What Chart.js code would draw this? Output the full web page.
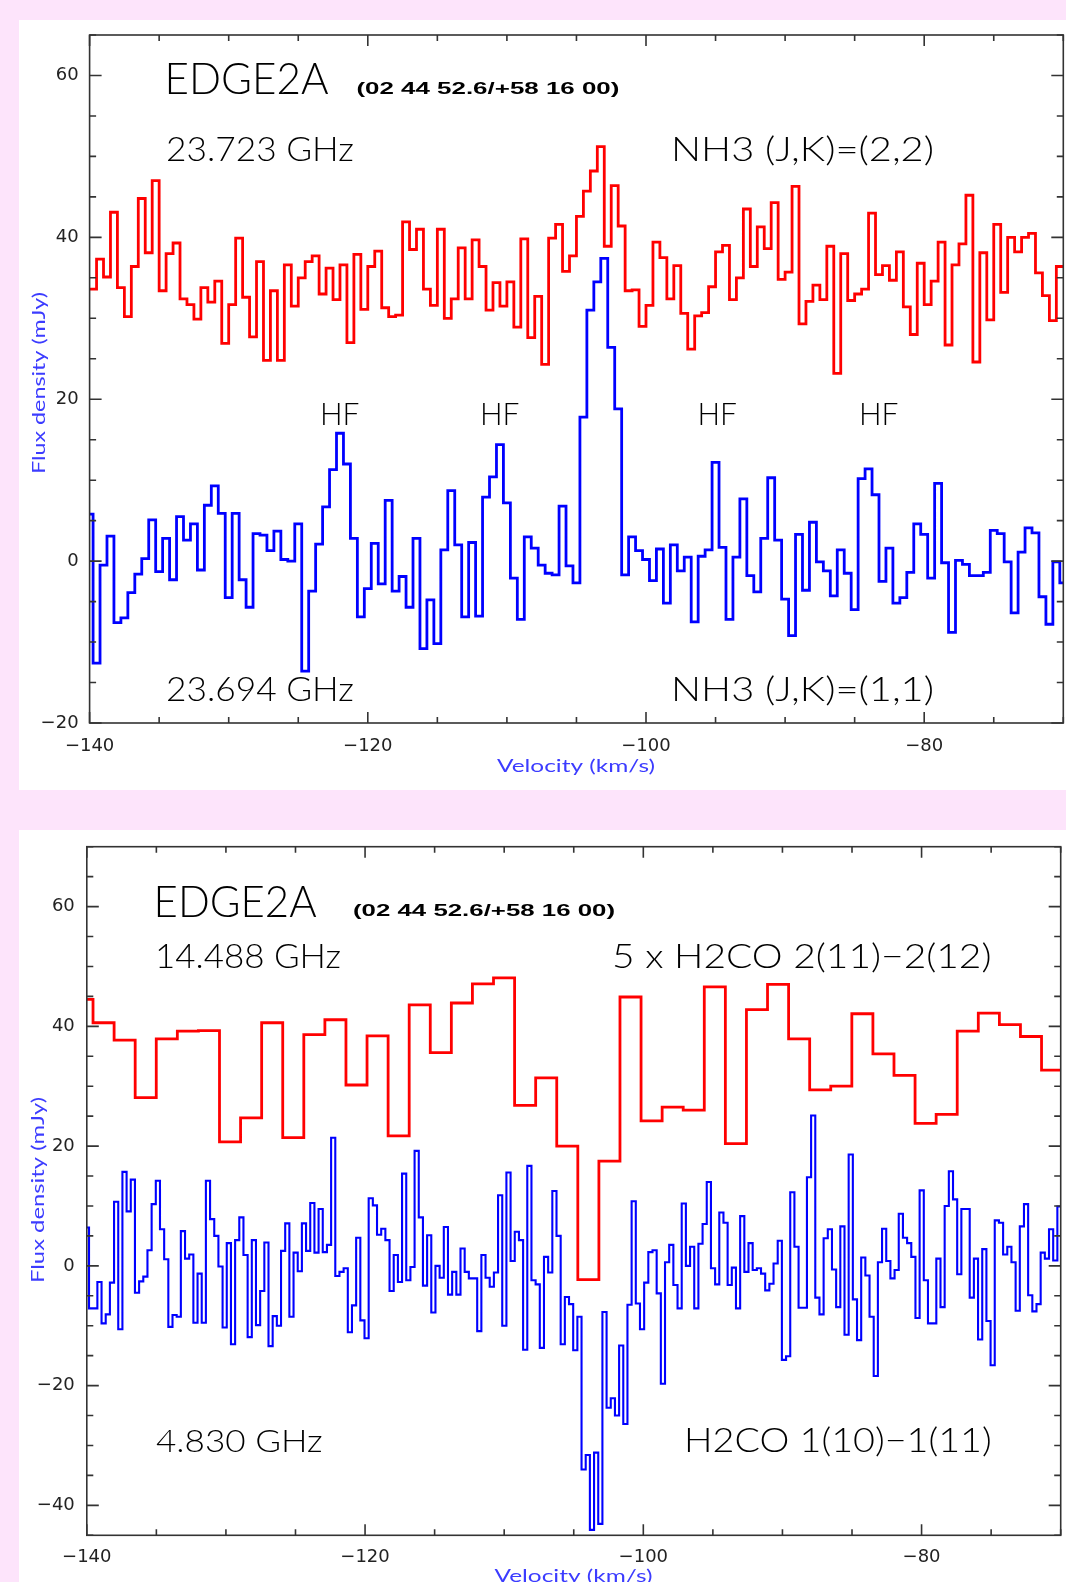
<!DOCTYPE html>
<html>
<head>
<meta charset="utf-8">
<script src="https://cdn.jsdelivr.net/npm/chart.js@4.4.1/dist/chart.umd.min.js"></script>
<style>
    html, body { margin: 0; padding: 0; background: #fde4fb; }
    body { width: 1066px; height: 1582px; position: relative; overflow: hidden; }
    .panel { position: absolute; left: 19px; width: 1047px; background: #fff; }
    #p1 { top: 20px; height: 770px; }
    #p2 { top: 830px; height: 752px; }
    canvas { display: block; }
</style>
</head>
<body>
<div class="panel" id="p1"><canvas id="nh3Chart" width="1047" height="770"></canvas></div>
<div class="panel" id="p2"><canvas id="h2coChart" width="1047" height="752"></canvas></div>
<script>
// velocity axis (km/s) shared by both panels
const velocityRange = [-140, -70];
const nh3YRange = [-20, 65];
const h2coYRange = [-45, 70];

// NH3 (2,2), 0.5 km/s channels, first channel centre -139.75
const nh322Start = -139.75;
const nh322Width = 0.5;
const nh322Flux = [
    33.6, 37.3, 35.1, 43.1, 33.8, 30.2, 36.4, 44.8, 38.1, 47.0,
    33.4, 38.0, 39.3, 32.4, 31.7, 29.9, 33.8, 32.0, 34.6, 26.9,
    31.7, 39.9, 32.6, 27.7, 37.0, 24.8, 33.4, 24.8, 36.6, 31.5,
    35.0, 37.0, 37.7, 33.0, 36.2, 32.3, 36.6, 27.0, 37.9, 31.1,
    36.4, 38.3, 31.3, 30.2, 30.4, 41.9, 38.5, 41.0, 33.6, 31.6,
    41.0, 30.0, 32.4, 38.7, 32.4, 39.7, 36.4, 31.0, 34.4, 31.5,
    34.5, 28.9, 39.8, 27.6, 32.7, 24.3, 39.9, 41.6, 35.8, 37.7,
    42.6, 45.7, 48.2, 51.2, 38.9, 46.4, 41.4, 33.4, 33.5, 29.0,
    31.6, 39.4, 37.5, 32.4, 36.5, 30.6, 26.2, 30.3, 30.7, 33.9,
    38.2, 39.0, 32.3, 35.0, 43.5, 36.4, 41.3, 38.6, 44.3, 34.8,
    35.7, 46.3, 29.3, 32.1, 34.1, 32.3, 38.9, 23.2, 38.0, 32.2,
    33.0, 33.6, 43.0, 35.4, 36.5, 34.7, 38.2, 31.4, 28.0, 36.8,
    31.7, 34.6, 39.4, 26.7, 36.6, 39.2, 45.2, 24.6, 38.1, 29.8,
    41.6, 33.2, 40.0, 38.2, 40.0, 40.5, 35.6, 32.8, 29.7, 36.4
];

// NH3 (1,1), 0.5 km/s channels, first channel centre -140
const nh311Start = -140;
const nh311Width = 0.5;
const nh311Flux = [
    5.8, -12.6, -0.5, 3.1, -7.6, -7.0, -3.9, -1.6, 0.3, 5.1,
    -1.3, 2.8, -2.3, 5.5, 2.6, 4.6, -1.1, 6.9, 9.3, 5.9,
    -4.5, 5.9, -2.3, -5.7, 3.4, 3.2, 1.3, 3.7, 0.2, 0.0,
    4.6, -13.6, -3.7, 2.1, 6.7, 11.3, 15.8, 12.0, 2.8, -6.9,
    -3.4, 2.2, -2.8, 7.5, -3.7, -1.9, -5.7, 2.8, -10.8, -4.8,
    -10.2, 1.4, 8.7, 2.0, -6.9, 2.3, -6.8, 7.9, 10.4, 14.4,
    7.2, -2.1, -7.2, 3.0, 1.6, -0.5, -1.5, -1.7, 6.8, -0.6,
    -2.7, 17.8, 31.0, 34.5, 37.4, 26.4, 18.8, -1.7, 3.0, 1.3,
    0.2, -2.4, 1.5, -5.2, 2.0, -1.2, 0.5, -7.5, 0.6, 1.4,
    12.2, 1.7, -7.2, 0.5, 7.7, -1.8, -3.8, 2.8, 10.3, 2.6,
    -4.7, -9.2, 3.3, -3.6, 4.8, -0.1, -1.2, -4.3, 1.4, -1.5,
    -6.0, 10.2, 11.4, 8.2, -2.5, 1.6, -5.2, -4.5, -1.4, 4.6,
    3.3, -2.1, 9.6, -0.2, -8.8, 0.1, -0.4, -1.8, -1.8, -1.4,
    3.8, 3.4, -0.1, -6.4, 1.1, 4.1, 3.5, -4.4, -7.8, -0.1,
    -2.7
];

// 5 x H2CO 2(11)-2(12), ~1.515 km/s channels
const h2co2cmStart = -140.31;
const h2co2cmWidth = 1.515;
const h2co2cmFlux = [
    44.5, 40.6, 37.7, 28.1, 37.9, 39.2, 39.3, 20.7, 24.7, 40.6,
    21.4, 38.6, 41.1, 30.2, 38.4, 21.7, 43.6, 35.6, 43.9, 47.1,
    48.1, 26.8, 31.4, 20.0, -2.3, 17.5, 44.9, 24.2, 26.5, 26.0,
    46.6, 20.4, 42.8, 47.0, 37.9, 29.4, 30.0, 42.1, 35.4, 31.8,
    23.8, 25.3, 39.2, 42.2, 40.3, 38.3, 32.7
];

// H2CO 1(10)-1(11), 0.3 km/s channels
const h2co6cmStart = -139.99;
const h2co6cmWidth = 0.3;
const h2co6cmFlux = [
    6.4, -7.1, -7.1, -2.7, -9.6, -8.1, -2.8, 10.7, -10.6, 15.7,
    9.1, 14.4, -4.5, -2.6, -1.8, 2.6, 10.3, 14.2, 6.1, 1.1,
    -10.2, -8.2, -8.5, 5.8, 1.2, 1.9, -9.5, -1.3, -9.5, 14.2,
    7.8, 5.0, -0.1, -10.3, 3.8, -13.1, 4.3, 8.1, 1.8, -11.9,
    4.3, -9.9, -4.2, 3.9, -13.4, -8.4, -10.0, 2.5, 7.1, -8.5,
    2.2, -0.9, 7.1, 2.5, 10.5, 2.2, 9.5, 2.3, 3.5, 21.4,
    -1.7, -1.0, -0.4, -11.1, -6.6, 4.7, -9.1, -12.1, 11.3, 10.1,
    5.2, 6.2, 4.3, -4.2, 1.8, -2.7, 15.4, -2.4, -0.2, 19.2,
    8.1, -3.3, 5.1, -7.8, 0.0, -2.0, 6.5, -4.8, -1.0, -4.8,
    2.9, -1.0, -2.1, -2.1, -10.9, 1.8, -2.0, -3.5, -1.1, 11.8,
    -10.0, 15.6, 0.8, 5.7, 4.3, -14.0, 16.7, -2.4, -3.1, -13.7,
    1.5, -1.1, 12.5, 5.0, -13.1, -5.2, -6.4, -14.1, -8.5, -34.0,
    -31.6, -44.1, -31.2, -43.1, -7.7, -23.7, -22.1, -25.0, -13.3, -26.4,
    -6.5, 10.8, -6.3, -10.6, -2.8, 2.3, 2.6, -4.6, -19.7, 0.6,
    3.5, -3.2, -7.1, 10.4, 0.0, 3.2, -7.1, 3.7, 7.0, 14.0,
    -0.4, -3.1, 8.9, 7.2, -3.2, -0.3, -7.1, 8.3, -1.0, 3.8,
    -0.7, -0.4, -1.3, -4.1, -3.0, 0.4, 4.2, -15.7, -15.1, 12.3,
    3.2, -7.0, -7.0, 14.8, 25.1, -5.3, -8.1, 4.6, 6.1, -0.6,
    -6.9, 6.6, -11.5, 18.6, -5.6, -12.4, 1.4, -1.6, -8.5, -18.4,
    0.6, 6.2, 0.8, -2.1, -0.7, 8.7, 4.7, 3.8, 1.5, -8.7,
    12.6, -2.4, -9.6, -9.6, 1.2, -6.9, 10.0, 15.8, 11.1, -1.4,
    9.5, 9.5, -5.3, 1.2, -12.3, 2.8, -9.2, -16.6, 7.6, 7.2,
    1.9, 3.2, 0.6, -7.5, 6.6, 10.3, -4.9, -7.6, -6.4, 2.2,
    1.2, 6.1, 0.9, 9.9
];

const LIGHT = 'Lato, "DejaVu Sans", sans-serif';
const TICKFONT = '"DejaVu Sans", sans-serif';

// channel centres -> points for a 'middle' stepped line, padded out to the outer channel edges
function histogram(values, firstCentre, width) {
    let pts = [{x: firstCentre - width / 2, y: values[0]}];
    values.forEach((v, i) => pts.push({x: firstCentre + i * width, y: v}));
    pts.push({x: firstCentre + (values.length - 1) * width + width / 2, y: values[values.length - 1]});
    return pts;
}

function minus(v) {
    return v < 0 ? '\u2212' + Math.abs(v) : String(v);
}

// text squeezed/stretched to a given width
function fitText(ctx, text, x, y, size, width, weight, family) {
    ctx.font = `${weight} ${size}px ${family}`;
    let w = ctx.measureText(text).width;
    ctx.save();
    ctx.translate(x, y);
    ctx.scale(width / w, 1);
    ctx.fillText(text, 0, 0);
    ctx.restore();
}

function framePlugin(cfg) {
    return {
        id: 'frame',
        afterDatasetsDraw(chart) {
            const {ctx, chartArea: a, scales: {x, y}} = chart;
            ctx.save();
            ctx.strokeStyle = '#333';
            ctx.lineWidth = 1.6;
            ctx.strokeRect(a.left, a.top, a.right - a.left, a.bottom - a.top);
            ctx.beginPath();
            x.ticks.forEach(t => {
                let px = x.getPixelForValue(t.value);
                let len = Math.abs(t.value % 20) < 1e-6 ? 11 : 6;
                ctx.moveTo(px, a.bottom); ctx.lineTo(px, a.bottom - len);
                ctx.moveTo(px, a.top); ctx.lineTo(px, a.top + len);
            });
            y.ticks.forEach(t => {
                let py = y.getPixelForValue(t.value);
                let len = Math.abs(t.value % 20) < 1e-6 ? 12 : 6.5;
                ctx.moveTo(a.left, py); ctx.lineTo(a.left + len, py);
                ctx.moveTo(a.right, py); ctx.lineTo(a.right - len, py);
            });
            ctx.stroke();

            ctx.fillStyle = '#000';
            ctx.textAlign = 'left';
            ctx.textBaseline = 'alphabetic';
            cfg.texts.forEach(t => fitText(ctx, t[0], t[1], t[2], t[3], t[4], t[5] || 300, t[6] || LIGHT));

            // axis titles
            ctx.fillStyle = '#3c3cff';
            ctx.textAlign = 'center';
            ctx.textBaseline = 'middle';
            let xt = cfg.xTitle;
            fitText(ctx, 'Velocity (km/s)', xt[0], xt[1], 17, 158, 400, LIGHT);
            let yt = cfg.yTitle;
            ctx.save();
            ctx.translate(yt[0], yt[1]);
            ctx.rotate(-Math.PI / 2);
            fitText(ctx, 'Flux density (mJy)', 0, 0, 17, yt[2], 400, LIGHT);
            ctx.restore();
            ctx.restore();
        }
    };
}

function spectrumChart(id, datasets, yRange, box, cfg) {
    // x labels pushed down through lineHeight (ticks.padding would also pad the right edge)
    const xFont = {family: TICKFONT, size: 18, lineHeight: 2 * box.xLabelDrop / 18};
    const yFont = {family: TICKFONT, size: 18, lineHeight: 0.2};
    return new Chart(document.getElementById(id), {
        type: 'line',
        data: {datasets: datasets},
        options: {
            responsive: false, animation: false, events: [],
            layout: {padding: {left: 0, right: box.right, top: box.top, bottom: 0}},
            plugins: {legend: {display: false}, tooltip: {enabled: false}},
            elements: {point: {radius: 0}, line: {tension: 0}},
            scales: {
                x: {
                    type: 'linear', min: velocityRange[0], max: velocityRange[1],
                    grid: {display: false, drawTicks: false}, border: {display: false},
                    ticks: {
                        stepSize: 5, autoSkip: false, maxRotation: 0, padding: 0,
                        color: '#222', font: xFont,
                        callback: v => Math.abs(v % 20) < 1e-6 ? minus(v) : ''
                    },
                    afterFit: s => { s.height = box.xHeight; }
                },
                y: {
                    type: 'linear', min: yRange[0], max: yRange[1],
                    grid: {display: false, drawTicks: false}, border: {display: false},
                    ticks: {
                        stepSize: 5, autoSkip: false, padding: box.yPad,
                        color: '#222', font: yFont,
                        callback: v => Math.abs(v % 20) < 1e-6 ? minus(v) : ''
                    },
                    afterFit: s => { s.width = box.yWidth; }
                }
            }
        },
        plugins: [framePlugin(cfg)]
    });
}

const nh3Chart = spectrumChart('nh3Chart', [
    {data: histogram(nh322Flux, nh322Start, nh322Width), borderColor: '#ff0000', borderWidth: 2.8, stepped: 'middle', clip: 0},
    {data: histogram(nh311Flux, nh311Start, nh311Width), borderColor: '#0000ff', borderWidth: 2.8, stepped: 'middle', clip: 0}
], nh3YRange, {right: 2.7, top: 15, xHeight: 67, yWidth: 70.6, xLabelDrop: 23.7, yPad: 11}, {
    texts: [
        ['EDGE2A', 145.6, 74, 43, 164],
        ['(02 44 52.6/+58 16 00)', 337.4, 74, 17, 263, 'bold', '"Liberation Sans", Arial, sans-serif'],
        ['23.723 GHz', 147, 140.7, 33, 188],
        ['NH3 (J,K)=(2,2)', 652, 140.7, 33, 263],
        ['HF', 301, 405, 32, 39.5],
        ['HF', 461, 405, 32, 39.5],
        ['HF', 678.5, 405, 32, 39.5],
        ['HF', 840, 405, 32, 39.5],
        ['23.694 GHz', 147, 680.7, 33, 188],
        ['NH3 (J,K)=(1,1)', 652, 680.7, 33, 263]
    ],
    xTitle: [557, 747],
    yTitle: [21, 363, 182]
});

const h2coChart = spectrumChart('h2coChart', [
    {data: histogram(h2co2cmFlux, h2co2cmStart, h2co2cmWidth), borderColor: '#ff0000', borderWidth: 2.8, stepped: 'middle', clip: 0},
    {data: histogram(h2co6cmFlux, h2co6cmStart, h2co6cmWidth), borderColor: '#0000ff', borderWidth: 2.1, stepped: 'middle', clip: 0}
], h2coYRange, {right: 5.3, top: 16.7, xHeight: 46.7, yWidth: 67.8, xLabelDrop: 22, yPad: 12}, {
    texts: [
        ['EDGE2A', 134.6, 86.7, 43, 163],
        ['(02 44 52.6/+58 16 00)', 334, 86, 17, 262, 'bold', '"Liberation Sans", Arial, sans-serif'],
        ['14.488 GHz', 136, 138.3, 33, 186],
        ['5 x H2CO 2(11)\u22122(12)', 593, 138.3, 33, 379.5],
        ['4.830 GHz', 137, 622.3, 32, 166.7],
        ['H2CO 1(10)\u22121(11)', 665, 622.3, 33, 307.7]
    ],
    xTitle: [554.5, 747],
    yTitle: [20, 360, 186]
});
</script>
</body>
</html>
